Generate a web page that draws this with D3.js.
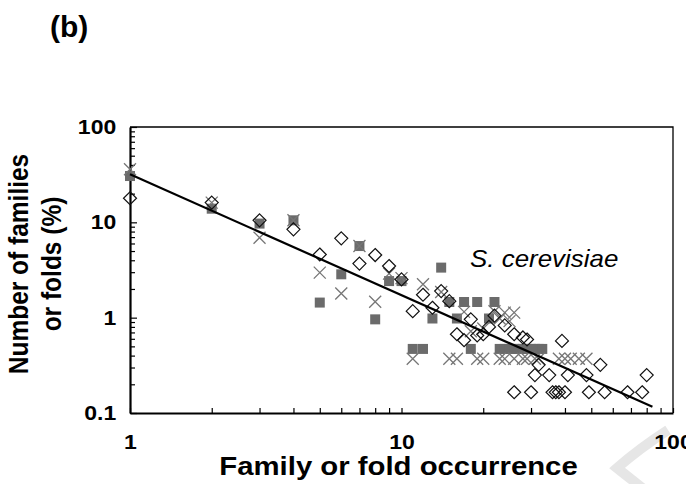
<!DOCTYPE html>
<html>
<head>
<meta charset="utf-8">
<script src="https://cdn.jsdelivr.net/npm/d3@7"></script>
<style>
  body { margin: 0; background: #fff; }
</style>
</head>
<body>
<div id="container"></div>
<script>
// svg size
const width = 686;
const height = 484;

// plot box
const marginLeft = 130;
const marginRight = 13;
const marginTop = 127;
const marginBottom = 71;

const fontFamily = "'Liberation Sans', Arial, Helvetica, sans-serif";
const stretch = 1.15; // the original figure is a little wider than tall

// data
// open diamonds
const diamondX = [1, 2, 3, 4, 5, 6, 7, 8, 9, 10, 11, 12, 13, 14, 15, 16, 17, 18, 19, 20, 21, 22, 24, 26, 28, 29, 39,
                  32, 54, 31, 35, 41, 48, 80, 26, 30, 36, 37, 38, 40, 49, 56, 68, 77];
const diamondY = [17.9, 16.1, 10.5, 8.45, 4.6, 6.8, 3.69, 4.54, 3.48, 2.52, 1.17, 1.74, 1.27, 1.9, 1.49, 0.67, 0.58, 0.96, 0.65, 0.67, 0.8, 1.05, 0.83, 0.67, 0.62, 0.59, 0.57,
                  0.32, 0.32, 0.25, 0.25, 0.25, 0.25, 0.25, 0.165, 0.165, 0.165, 0.165, 0.165, 0.165, 0.165, 0.165, 0.165, 0.165];

// grey crosses
const crossX = [1, 2, 3, 4, 5, 6, 7, 8, 9, 10, 11, 12, 14, 15, 16, 17, 18, 19, 20, 20, 22, 23, 23, 24, 24, 25, 26, 26,
                28, 29, 31, 32, 38, 40, 42, 45, 48];
const crossY = [36, 16.1, 6.9, 10.5, 2.97, 1.79, 5.64, 1.47, 2.9, 2.6, 0.37, 2.24, 1.86, 0.37, 0.37, 1.15, 0.72, 0.37, 0.77, 0.37, 1.17, 0.98, 0.37, 1.13, 0.37, 0.92, 1.13, 0.37,
                0.37, 0.37, 0.37, 0.37, 0.37, 0.37, 0.37, 0.37, 0.37];

// filled grey squares
const squareX = [1, 2, 3, 4, 5, 6, 7, 8, 9, 10, 11, 12, 13, 14, 15, 16, 17, 18, 19, 21, 22,
                 23, 24, 25, 26, 27, 28, 29, 30, 31, 32, 33];
const squareY = [30.6, 13.9, 9.7, 10.5, 1.44, 2.85, 5.64, 0.96, 2.42, 2.42, 0.47, 0.47, 0.98, 3.35, 1.46, 0.98, 1.46, 0.47, 1.46, 0.98, 1.46,
                 0.47, 0.47, 0.47, 0.47, 0.47, 0.47, 0.47, 0.47, 0.47, 0.47, 0.47];

// power-law trend line end points
const fitX = [1, 84];
const fitY = [31.9, 0.116];

// tick labels
const xMajor = [1, 10, 100];
const yMajor = [0.1, 1, 10, 100];

const panelLabel = "(b)";
const speciesLabel = "S. cerevisiae";
const xTitle = "Family or fold occurrence";
const yTitle = ["Number of families", "or folds (%)"];

const svg = d3.select("#container").append("svg")
  .attr("width", width)
  .attr("height", height)
  .attr("viewBox", [0, 0, width, height])
  .style("font-family", fontFamily);

const x = d3.scaleLog()
  .domain([1, 100])
  .range([marginLeft, width - marginRight]);

const y = d3.scaleLog()
  .domain([0.1, 100])
  .range([height - marginBottom, marginTop]);

// faint watermark in the lower right corner
svg.append("path")
  .attr("d", "M668,430 Q640,448 617,468 Q632,480 650,494")
  .attr("fill", "none")
  .attr("stroke", "#e6e6e6")
  .attr("stroke-width", 10);

// minor ticks
const minorX = d3.range(2, 10).flatMap(k => [k, k * 10]);
const minorY = d3.range(2, 10).flatMap(k => [k * 0.1, k, k * 10]);

svg.append("g")
  .attr("transform", `translate(0,${height - marginBottom})`)
  .call(d3.axisBottom(x).tickValues(minorX).tickSize(-5).tickSizeOuter(0).tickFormat(""))
  .call(g => g.select(".domain").remove());

svg.append("g")
  .attr("transform", `translate(${marginLeft},0)`)
  .call(d3.axisLeft(y).tickValues(minorY).tickSize(-5).tickSizeOuter(0).tickFormat(""))
  .call(g => g.select(".domain").remove());

// frame top / right
svg.append("path")
  .attr("d", `M${marginLeft},${marginTop}H${width - marginRight}V${height - marginBottom}`)
  .attr("fill", "none")
  .attr("stroke", "#000")
  .attr("stroke-width", 1.3);

// major axes
const xAxis = svg.append("g")
  .attr("transform", `translate(0,${height - marginBottom})`)
  .call(d3.axisBottom(x).tickValues(xMajor).tickSize(-5).tickSizeOuter(0).tickPadding(22).tickFormat(d3.format("")));

const yAxis = svg.append("g")
  .attr("transform", `translate(${marginLeft},0)`)
  .call(d3.axisLeft(y).tickValues(yMajor).tickSize(-7).tickSizeOuter(0).tickPadding(12).tickFormat(d => String(d)));

[xAxis, yAxis].forEach(a => {
  a.select(".domain").attr("stroke-width", 2.2);
  a.selectAll("text")
    .attr("font-family", fontFamily)
    .attr("font-size", 20)
    .attr("font-weight", "bold")
    .attr("fill", "#000")
    .attr("transform", `scale(${stretch},1)`);
});

svg.selectAll(".tick line").attr("stroke", "#000").attr("stroke-width", 1.2);

// squares
svg.append("g")
  .selectAll("rect")
  .data(squareX.map((d, i) => [d, squareY[i]]))
  .join("rect")
  .attr("x", d => x(d[0]) - 5)
  .attr("y", d => y(d[1]) - 5)
  .attr("width", 10)
  .attr("height", 10)
  .attr("fill", "#6b6b6b");

// crosses
svg.append("g")
  .selectAll("path")
  .data(crossX.map((d, i) => [d, crossY[i]]))
  .join("path")
  .attr("transform", d => `translate(${x(d[0])},${y(d[1])})`)
  .attr("d", "M-6,-6L6,6M-6,6L6,-6")
  .attr("stroke", "#767676")
  .attr("stroke-width", 1.3)
  .attr("fill", "none");

// diamonds
svg.append("g")
  .selectAll("path")
  .data(diamondX.map((d, i) => [d, diamondY[i]]))
  .join("path")
  .attr("transform", d => `translate(${x(d[0])},${y(d[1])})`)
  .attr("d", "M0,-6.5L6.5,0L0,6.5L-6.5,0Z")
  .attr("stroke", "#111")
  .attr("stroke-width", 1.2)
  .attr("fill", "none");

// trend line
svg.append("path")
  .datum(fitX.map((d, i) => [d, fitY[i]]))
  .attr("d", d3.line().x(d => x(d[0])).y(d => y(d[1])))
  .attr("fill", "none")
  .attr("stroke", "#000")
  .attr("stroke-width", 2.2);

// texts
svg.append("text")
  .attr("x", 50)
  .attr("y", 37)
  .attr("font-size", 30)
  .attr("font-weight", "bold")
  .text(panelLabel);

svg.append("text")
  .attr("transform", `translate(470,267) scale(${stretch * 0.98},1)`)
  .attr("font-size", 23)
  .attr("font-style", "italic")
  .text(speciesLabel);

svg.append("text")
  .attr("transform", `translate(${(marginLeft + width - marginRight) / 2 - 3},475) scale(${stretch},1)`)
  .attr("text-anchor", "middle")
  .attr("font-size", 25.5)
  .attr("font-weight", "bold")
  .text(xTitle);

svg.append("text")
  .attr("transform", `translate(0,264) scale(${stretch},1) rotate(-90)`)
  .attr("text-anchor", "middle")
  .attr("font-size", 24.5)
  .attr("font-weight", "bold")
  .selectAll("tspan")
  .data(yTitle)
  .join("tspan")
  .attr("x", 0)
  .attr("y", (d, i) => 24.5 + i * 28.5)
  .text(d => d);
</script>
</body>
</html>
